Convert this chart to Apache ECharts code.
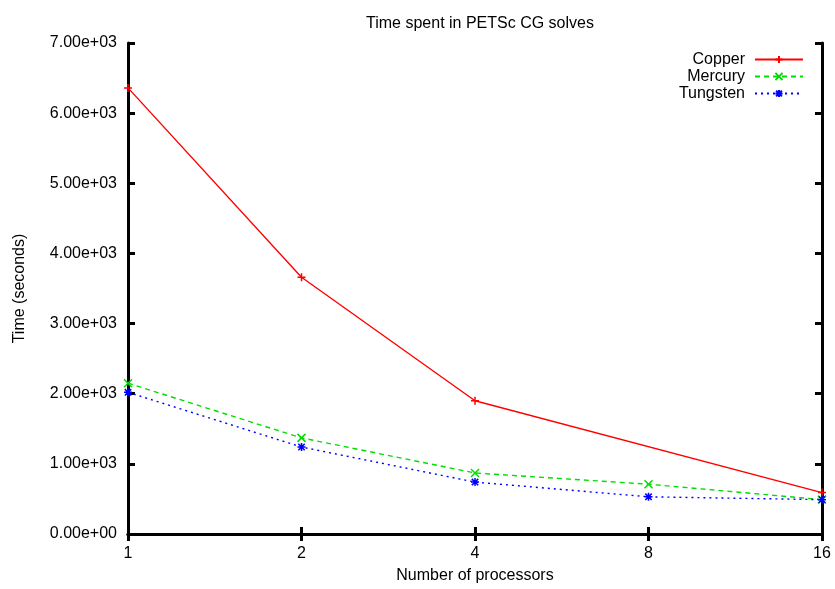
<!DOCTYPE html>
<html>
<head>
<meta charset="utf-8">
<script src="https://cdn.jsdelivr.net/npm/echarts@6/dist/echarts.min.js"></script>
<style>
  html, body { margin: 0; padding: 0; background: #fff; }
  #chart { width: 835px; height: 589px; }
</style>
</head>
<body>
<div id="chart"></div>
<script>
var processors = ['1', '2', '4', '8', '16'];
var copper = [6360, 3660, 1900, null, 590];
var mercury = [2150, 1370, 870, 710, 490];
var tungsten = [2020, 1240, 740, 530, 490];

var plusPath = 'path://M5,0 L5,10 M0,5 L10,5';
var crossPath = 'path://M0,0 L10,10 M0,10 L10,0';
var starPath = 'path://M5,0 L5,10 M0,5 L10,5 M1,1 L9,9 M1,9 L9,1';

var font = 'Liberation Sans, Arial, sans-serif';

var myChart = echarts.init(document.getElementById('chart'));

function makeSeries(name, data, color, lineType, symbol) {
  return {
    name: name,
    type: 'line',
    data: data,
    connectNulls: true,
    symbol: symbol,
    symbolSize: 8,
    showAllSymbol: true,
    lineStyle: { color: color, width: 1.4, type: lineType },
    itemStyle: { color: color, borderColor: color, borderWidth: 1.5 },
    emphasis: { disabled: true },
    animation: false
  };
}

var option = {
  backgroundColor: '#fff',
  title: {
    text: 'Time spent in PETSc CG solves',
    left: 475,
    top: 11,
    textAlign: 'center',
    textStyle: { fontFamily: font, fontSize: 16, fontWeight: 'normal', color: '#000' }
  },
  legend: {
    orient: 'vertical',
    right: 26,
    top: 46,
    align: 'right',
    itemWidth: 48,
    itemHeight: 9,
    itemGap: 0,
    textStyle: { fontFamily: font, fontSize: 16, lineHeight: 17, color: '#000', padding: [0, 5, 0, 0] },
    data: ['Copper', 'Mercury', 'Tungsten']
  },
  grid: { left: 128, right: 13, top: 43, bottom: 54 },
  xAxis: [{
    type: 'category',
    data: processors,
    boundaryGap: false,
    name: 'Number of processors',
    nameLocation: 'middle',
    nameGap: 34,
    nameTextStyle: { fontFamily: font, fontSize: 16, color: '#000' },
    axisLine: { lineStyle: { color: '#000', width: 3 } },
    axisTick: { inside: true, length: 7, lineStyle: { color: '#000', width: 3 } },
    axisLabel: { fontFamily: font, fontSize: 16, color: '#000', margin: 12 },
    splitLine: { show: false }
  }, {
    type: 'category',
    data: processors,
    boundaryGap: false,
    position: 'top',
    axisLine: { lineStyle: { color: '#000', width: 3 } },
    axisTick: { inside: true, length: 7, lineStyle: { color: '#000', width: 3 } },
    axisLabel: { show: false },
    splitLine: { show: false }
  }],
  yAxis: [{
    type: 'value',
    min: 0,
    max: 7000,
    interval: 1000,
    name: 'Time (seconds)',
    nameLocation: 'middle',
    nameGap: 100,
    nameTextStyle: { fontFamily: font, fontSize: 16, color: '#000' },
    axisLine: { show: true, lineStyle: { color: '#000', width: 3 } },
    axisTick: { show: true, inside: true, length: 7, lineStyle: { color: '#000', width: 3 } },
    axisLabel: {
      fontFamily: font, fontSize: 16, color: '#000', margin: 11,
      formatter: function (v) { return v.toExponential(2).replace('e+', 'e+0'); }
    },
    splitLine: { show: false }
  }, {
    type: 'value',
    min: 0,
    max: 7000,
    interval: 1000,
    position: 'right',
    axisLine: { show: true, lineStyle: { color: '#000', width: 3 } },
    axisTick: { show: true, inside: true, length: 7, lineStyle: { color: '#000', width: 3 } },
    axisLabel: { show: false },
    splitLine: { show: false }
  }],
  series: [
    makeSeries('Copper', copper, '#ff0000', 'solid', plusPath),
    makeSeries('Mercury', mercury, '#00dd00', [5, 4], crossPath),
    makeSeries('Tungsten', tungsten, '#0000ff', [2, 4], starPath)
  ]
};

myChart.setOption(option);
</script>
</body>
</html>
